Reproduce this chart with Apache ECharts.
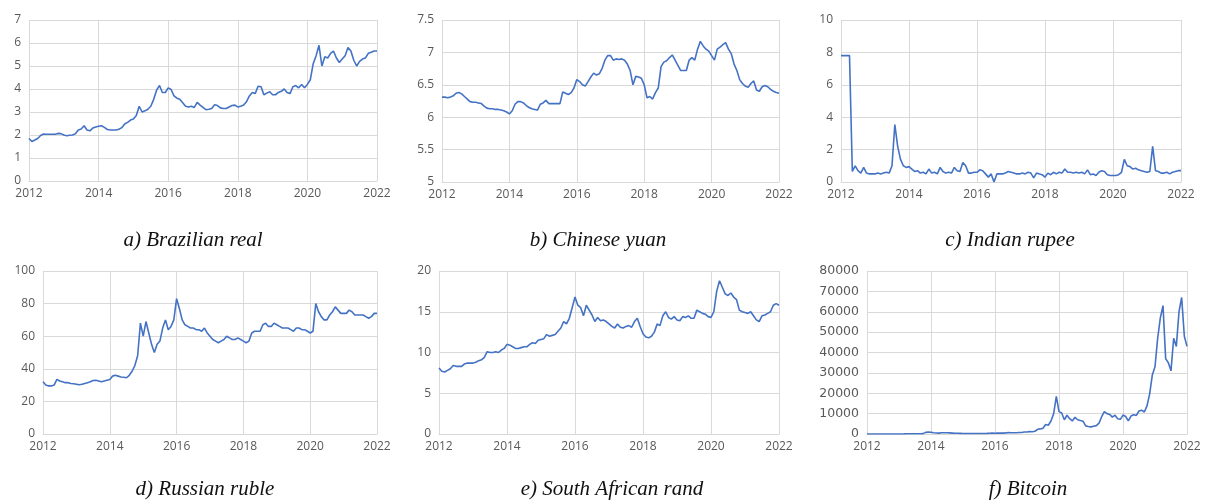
<!DOCTYPE html>
<html><head><meta charset="utf-8">
<script src="https://cdn.jsdelivr.net/npm/echarts@6/dist/echarts.min.js"></script>
<style>html,body{margin:0;padding:0;background:#fff}#c{width:1210px;height:500px}</style>
</head><body><div id="c"></div>
<script>
// monthly observations, Jan 2012 .. Jan 2022
const startYear = 2012;
const xTicks = [2012, 2014, 2016, 2018, 2020, 2022];
const titles = ['a) Brazilian real', 'b) Chinese yuan', 'c) Indian rupee', 'd) Russian ruble', 'e) South African rand', 'f) Bitcoin'];

const brl = [1.85,1.72,1.78,1.85,1.98,2.04,2.03,2.03,2.03,2.03,2.07,2.06,
  2.00,1.97,1.99,2.00,2.05,2.22,2.26,2.40,2.22,2.18,2.30,2.35,
  2.38,2.40,2.33,2.24,2.22,2.22,2.22,2.25,2.32,2.48,2.55,2.65,
  2.70,2.85,3.25,3.00,3.05,3.12,3.25,3.55,3.95,4.15,3.85,3.85,
  4.05,3.98,3.70,3.60,3.55,3.40,3.25,3.22,3.25,3.20,3.42,3.30,
  3.20,3.10,3.12,3.15,3.32,3.28,3.18,3.15,3.15,3.22,3.28,3.30,
  3.22,3.25,3.30,3.45,3.70,3.85,3.80,4.12,4.10,3.75,3.82,3.88,
  3.75,3.75,3.85,3.90,4.00,3.85,3.80,4.10,4.15,4.05,4.20,4.05,
  4.20,4.40,5.10,5.45,5.90,5.00,5.40,5.35,5.55,5.65,5.35,5.15,
  5.30,5.45,5.80,5.65,5.25,5.00,5.20,5.30,5.35,5.55,5.60,5.65,
  5.65];
const cny = [6.31,6.31,6.30,6.31,6.33,6.37,6.38,6.36,6.32,6.28,6.24,6.23,
  6.23,6.22,6.21,6.17,6.14,6.13,6.13,6.12,6.12,6.11,6.10,6.08,
  6.05,6.10,6.20,6.24,6.24,6.22,6.18,6.15,6.13,6.12,6.11,6.20,
  6.22,6.26,6.21,6.21,6.21,6.21,6.21,6.39,6.37,6.35,6.38,6.45,
  6.58,6.55,6.50,6.48,6.55,6.62,6.68,6.65,6.67,6.75,6.88,6.95,
  6.95,6.88,6.90,6.89,6.90,6.88,6.82,6.72,6.50,6.63,6.62,6.60,
  6.50,6.30,6.32,6.28,6.38,6.45,6.78,6.85,6.87,6.92,6.96,6.88,
  6.80,6.72,6.72,6.72,6.88,6.92,6.88,7.05,7.17,7.10,7.05,7.02,
  6.95,6.88,7.05,7.08,7.12,7.15,7.05,6.98,6.82,6.72,6.58,6.52,
  6.48,6.46,6.52,6.56,6.42,6.40,6.47,6.49,6.47,6.43,6.40,6.38,
  6.37];
const inr = [7.8,7.8,7.8,7.8,0.65,1.0,0.7,0.55,0.9,0.55,0.5,0.5,
  0.5,0.55,0.5,0.55,0.6,0.55,1.0,3.55,2.2,1.4,1.0,0.9,
  0.95,0.8,0.65,0.7,0.55,0.6,0.5,0.8,0.55,0.6,0.5,0.9,
  0.65,0.55,0.6,0.55,0.9,0.7,0.65,1.2,1.0,0.55,0.55,0.6,
  0.6,0.75,0.7,0.5,0.3,0.5,0.0,0.5,0.5,0.5,0.55,0.65,
  0.6,0.55,0.5,0.5,0.55,0.5,0.6,0.55,0.25,0.55,0.5,0.45,
  0.3,0.55,0.45,0.6,0.5,0.6,0.55,0.8,0.6,0.6,0.55,0.6,
  0.55,0.6,0.5,0.75,0.45,0.5,0.4,0.6,0.7,0.65,0.45,0.4,
  0.4,0.4,0.45,0.6,1.4,1.0,0.95,0.8,0.85,0.75,0.7,0.65,
  0.6,0.65,2.2,0.7,0.65,0.55,0.55,0.6,0.5,0.6,0.65,0.7,
  0.7];
const rub = [32,30,29.5,29.5,30,33.5,32.5,32,31.5,31.5,31,30.8,
  30.5,30.2,30.5,31,31.5,32,32.8,33,32.5,32,32.5,33,
  33.5,35.5,36,35.5,35,34.8,34.5,36,38.5,42,48,68,
  60,69,62,55,50,55,57,65,70,64,66,70,
  83,77,70,67,66,65,65,64,64,63,65,62,
  60,58,57,56,57,58,60,59,58,58,59,58,
  57,56,57,62,63,63,63,67,68,66,66,68,
  67,66,65,65,65,64,63,65,65,64,64,63,
  62,63,80,75,72,70,70,73,75,78,76,74,
  74,74,76,75,73,73,73,73,72,71,72,74,
  74];
const zar = [8.1,7.7,7.6,7.8,8.0,8.4,8.3,8.3,8.3,8.6,8.7,8.7,
  8.7,8.8,9.0,9.1,9.4,10.1,10.0,10.0,10.1,10.0,10.3,10.5,
  11.0,10.9,10.7,10.5,10.5,10.6,10.7,10.7,11.0,11.2,11.1,11.5,
  11.6,11.7,12.2,12.0,12.1,12.2,12.6,13.0,13.8,13.5,14.2,15.5,
  16.8,15.8,15.5,14.5,15.8,15.2,14.6,13.8,14.3,13.9,14.0,13.8,
  13.5,13.2,13.0,13.5,13.1,13.0,13.2,13.3,13.1,13.8,14.2,13.2,
  12.3,11.9,11.8,12.0,12.5,13.5,13.3,14.5,15.0,14.3,14.1,14.4,
  14.0,13.9,14.4,14.3,14.5,14.2,14.2,15.2,15.0,14.8,14.7,14.4,
  14.3,15.0,17.5,18.8,18.0,17.2,17.0,17.3,16.8,16.5,15.2,15.0,
  14.9,14.8,15.0,14.5,14.0,13.8,14.5,14.6,14.8,15.0,15.8,16.0,
  15.8];
const btc = [5,5,5,5,5,6,8,10,12,12,11,13,
  15,25,60,120,120,100,90,110,130,180,800,900,
  850,600,500,450,600,620,600,550,450,350,380,320,
  250,230,250,230,240,250,280,230,240,300,400,430,
  380,420,410,450,530,680,650,580,610,700,740,970,
  960,1180,1100,1350,2300,2500,2800,4700,4300,6400,10000,18500,
  11000,10300,7000,9200,7500,6400,8200,7000,6600,6300,4000,3700,
  3500,3800,4100,5300,8500,11000,10000,9600,8300,9200,7500,7200,
  9300,8600,6400,8800,9500,9100,11300,11700,10800,13800,19700,29000,
  33000,47000,57000,63000,37000,35000,31000,47000,43000,60000,67000,48000,
  43000];

const panels = [
  {vals: brl, min: 0, max: 7, interval: 1, grid: {left: 29, top: 20, width: 348, height: 161}, title: [193, 240]},
  {vals: cny, min: 5, max: 7.5, interval: 0.5, grid: {left: 442, top: 20, width: 337, height: 162}, title: [598, 240]},
  {vals: inr, min: 0, max: 10, interval: 2, grid: {left: 841, top: 20, width: 340, height: 162}, title: [1010, 240]},
  {vals: rub, min: 0, max: 100, interval: 20, grid: {left: 43, top: 271, width: 334, height: 163}, title: [205, 489]},
  {vals: zar, min: 0, max: 20, interval: 5, grid: {left: 439, top: 271, width: 340, height: 163}, title: [612, 489]},
  {vals: btc, min: 0, max: 80000, interval: 10000, grid: {left: 867, top: 271, width: 320, height: 163}, title: [1028, 489], yFont: {fontFamily: 'DejaVu Sans', fontSize: 12.5}}
];

const labelStyle = {color: '#595959', fontSize: 12, fontFamily: 'Open Sans'};
const gridLine = {show: true, lineStyle: {color: '#d9d9d9', width: 1}};

const option = {
  animation: false,
  grid: panels.map(p => Object.assign({containLabel: false}, p.grid)),
  xAxis: panels.map((p, i) => ({
    type: 'value', gridIndex: i, min: xTicks[0], max: xTicks[xTicks.length - 1], interval: 2,
    axisLine: {show: true, lineStyle: {color: '#d9d9d9'}}, axisTick: {show: false},
    splitLine: gridLine,
    axisLabel: Object.assign({margin: 7, formatter: v => String(v)}, labelStyle)
  })),
  yAxis: panels.map((p, i) => ({
    type: 'value', gridIndex: i, min: p.min, max: p.max, interval: p.interval,
    axisLine: {show: false}, axisTick: {show: false},
    splitLine: gridLine,
    axisLabel: Object.assign({margin: 8, formatter: v => String(v)}, labelStyle, p.yFont || {})
  })),
  series: panels.map((p, i) => ({
    type: 'line', xAxisIndex: i, yAxisIndex: i, showSymbol: false, symbol: 'none',
    lineStyle: {color: '#4472C4', width: 1.6},
    data: p.vals.map((v, k) => [startYear + k / 12, v])
  })),
  graphic: panels.map((p, i) => ({
    type: 'text', x: p.title[0], y: p.title[1],
    style: {text: titles[i], font: 'italic 21px "Liberation Serif"', fill: '#111', textAlign: 'center', textVerticalAlign: 'middle'}
  }))
};
echarts.init(document.getElementById('c')).setOption(option);
</script></body></html>
